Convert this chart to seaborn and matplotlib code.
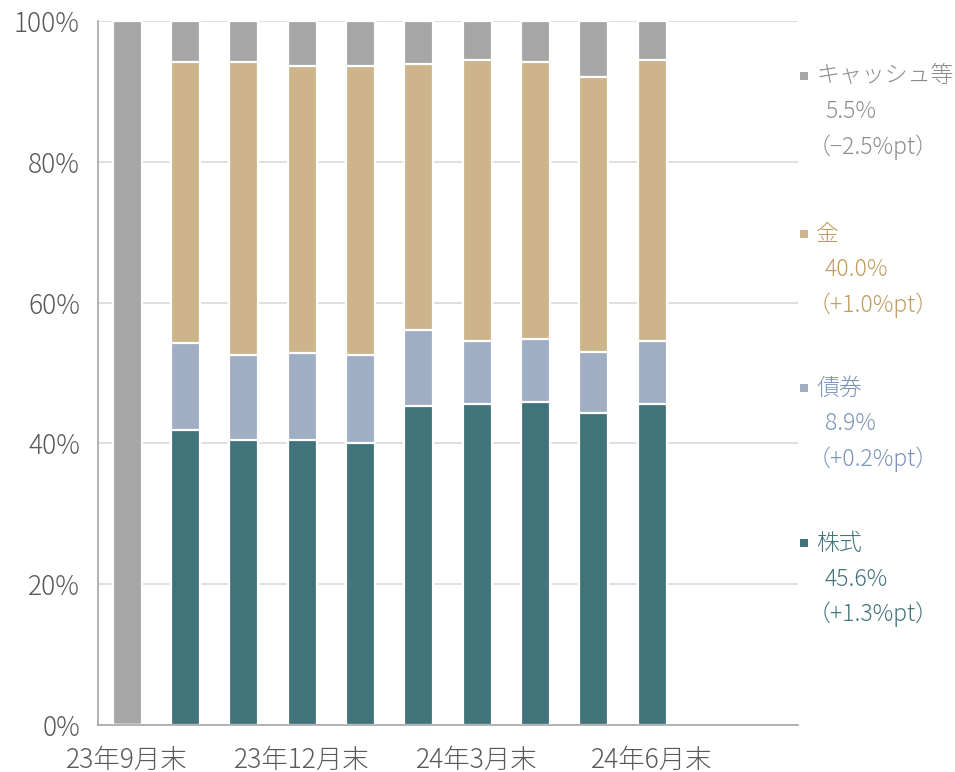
import numpy as np
import pandas as pd
import matplotlib
matplotlib.use("Agg")
import matplotlib.pyplot as plt
from matplotlib.patches import Rectangle
import seaborn as sns

# category axis: month ends (12 slots, data for the first 10)
months = ["23年9月末", "23年10月末", "23年11月末", "23年12月末", "24年1月末", "24年2月末",
          "24年3月末", "24年4月末", "24年5月末", "24年6月末", "24年7月末", "24年8月末"]
label_months = ["23年9月末", "23年12月末", "24年3月末", "24年6月末"]

# allocation (%)
stocks = [0.0, 41.9, 40.5, 40.5, 40.1, 45.3, 45.6, 45.9, 44.3, 45.6]
bonds = [0.0, 12.4, 12.1, 12.3, 12.5, 10.8, 9.0, 9.0, 8.7, 8.9]
gold = [0.0, 39.9, 41.6, 40.8, 41.0, 37.8, 39.8, 39.3, 39.0, 40.0]
cash = [100.0, 5.8, 5.8, 6.4, 6.4, 6.1, 5.6, 5.8, 8.0, 5.5]

series_names = ["キャッシュ等", "金", "債券", "株式"]
series_latest = ["5.5%", "40.0%", "8.9%", "45.6%"]
series_change = ["（−2.5%pt）", "（+1.0%pt）", "（+0.2%pt）", "（+1.3%pt）"]

bar_colors = {"株式": "#41737A", "債券": "#9FAEC4", "金": "#CDB48A", "キャッシュ等": "#A6A6A6"}
text_colors = {"株式": "#41737A", "債券": "#7A93B8", "金": "#C09C5E", "キャッシュ等": "#8C8C8C"}

sns.set_style("white")
plt.rcParams["font.family"] = ["Noto Sans CJK JP", "DejaVu Sans"]
plt.rcParams["font.weight"] = "light"

df = pd.DataFrame({"month": months[:len(stocks)], "株式": stocks, "債券": bonds,
                   "金": gold, "キャッシュ等": cash})
# cumulative tops, drawn from the tallest down
df["c_stock"] = df["株式"]
df["c_bond"] = df["c_stock"] + df["債券"]
df["c_gold"] = df["c_bond"] + df["金"]
df["c_cash"] = df["c_gold"] + df["キャッシュ等"]

fig = plt.figure(figsize=(9.55, 7.72), dpi=100)
ax = fig.add_axes([98 / 955, 47 / 772, 700 / 955, 704 / 772])

for col, name in [("c_cash", "キャッシュ等"), ("c_gold", "金"), ("c_bond", "債券"), ("c_stock", "株式")]:
    sns.barplot(data=df, x="month", y=col, order=months, color=bar_colors[name],
                saturation=1, width=0.5, edgecolor="white", linewidth=1.6,
                errorbar=None, ax=ax, zorder=2)

ax.set_xlim(-0.5, len(months) - 0.5)
ax.set_ylim(0, 100)
ax.set_yticks(np.arange(0, 101, 20))
ax.set_yticklabels([f"{v}%" for v in range(0, 101, 20)])
ax.yaxis.grid(True, color="#D9D9D9", linewidth=1.2, zorder=0)
ax.set_axisbelow(True)
ax.set_xlabel("")
ax.set_ylabel("")

# boundary tick marks every 3 months, labels at the quarter months
ax.set_xticks(np.arange(-0.5, len(months), 3))
ax.set_xticklabels([])
ax.set_xticks([months.index(m) for m in label_months], minor=True)
ax.set_xticklabels(label_months, minor=True)
ax.tick_params(axis="x", which="major", length=9, width=1.2, color="#A6A6A6", direction="out")
ax.tick_params(axis="x", which="minor", length=0, pad=15, labelsize=19, labelcolor="#595959")
ax.tick_params(axis="y", length=7, width=1.2, color="#A6A6A6", direction="out",
               labelsize=19, labelcolor="#595959", pad=6)

for side in ["top", "right"]:
    ax.spines[side].set_visible(False)
for side in ["left", "bottom"]:
    ax.spines[side].set_color("#A6A6A6")
    ax.spines[side].set_linewidth(1.2)

# right-hand labels with latest value and change
group_y = [76, 234, 388, 543]
for name, val, chg, y0 in zip(series_names, series_latest, series_change, group_y):
    fig.add_artist(Rectangle((800 / 955, 1 - (y0 + 4) / 772), 8 / 955, 8 / 772,
                             transform=fig.transFigure, color=bar_colors[name], lw=0))
    fig.text(816 / 955, 1 - y0 / 772, name, fontsize=16.5, color=text_colors[name], va="center")
    fig.text(825 / 955, 1 - (y0 + 36) / 772, val, fontsize=16.5, color=text_colors[name], va="center")
    fig.text(808 / 955, 1 - (y0 + 71) / 772, chg, fontsize=16.5, color=text_colors[name], va="center")

fig.savefig("out.png", dpi=100)
